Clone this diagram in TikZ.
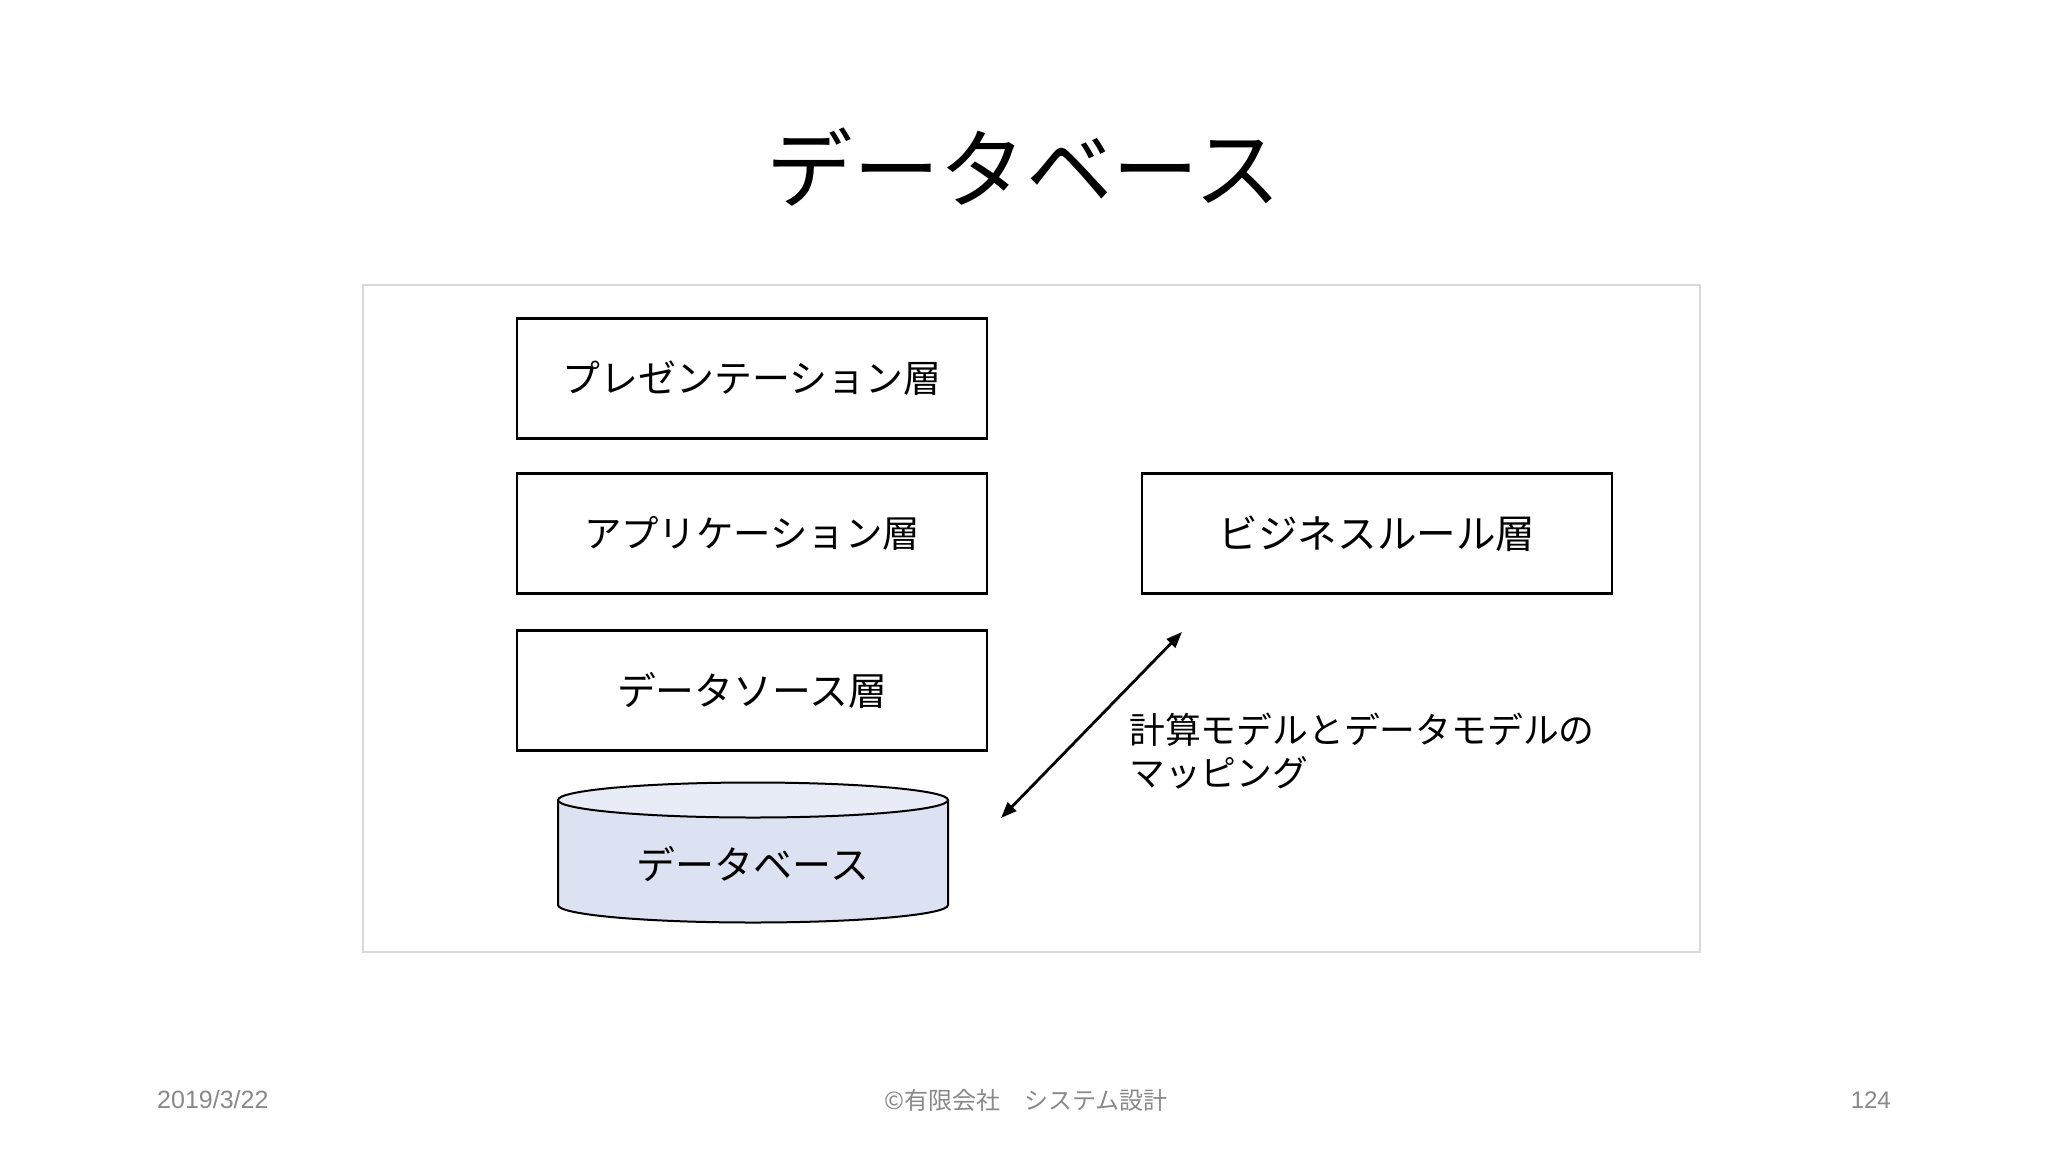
\documentclass[tikz,border=0pt]{standalone}
\usepackage{fontspec}
\setmainfont{Noto Sans CJK JP}
\newfontfamily\latinfont{Liberation Sans}
\usetikzlibrary{arrows.meta}
\definecolor{framegray}{RGB}{217,217,217}
\definecolor{footgray}{RGB}{137,137,137}
\definecolor{dbbody}{RGB}{220,226,242}
\definecolor{dbtop}{RGB}{232,236,247}
\newcommand{\fs}[1]{\fontsize{#1}{#1}\selectfont}
\tikzset{
  layerbox/.style={draw=black, line width=2.2pt, minimum width=470pt, minimum height=120pt, inner sep=0pt},
  foottext/.style={text=footgray, inner sep=0pt, font=\fontsize{24}{28}\selectfont},
  maparrow/.style={line width=2.8pt, {Triangle[length=16pt,width=12pt]}-{Triangle[length=16pt,width=12pt]}},
}
\begin{document}
\begin{tikzpicture}[x=1pt,y=-1pt]
\useasboundingbox (0,0) rectangle (2048,1152);
\fill[white] (0,0) rectangle (2048,1152);
% title
\node[inner sep=0pt, font=\fs{86.5}] (title) at (1024,167) {データベース};
% frame
\draw[framegray, line width=2pt] (363,285) rectangle (1700,952);
% layer boxes
\node[layerbox, font=\fs{37.9}] (pres) at (752,378.5) {プレゼンテーション層};
\node[layerbox, font=\fs{37.4}] (app) at (752,533.5) {アプリケーション層};
\node[layerbox, font=\fs{38.8}] (ds) at (752,690.5) {データソース層};
\node[layerbox, font=\fs{39.6}] (biz) at (1377,533.5) {ビジネスルール層};
% database cylinder
\fill[dbbody] (558,800) -- (558,905) arc[start angle=180, end angle=360, x radius=195, y radius=-17.5] -- (948,800) -- cycle;
\draw[black, line width=2pt] (558,800) -- (558,905) arc[start angle=180, end angle=360, x radius=195, y radius=-17.5] -- (948,800);
\draw[black, line width=2pt, fill=dbtop] (753,800) ellipse[x radius=195, y radius=17.5];
\node[inner sep=0pt, font=\fs{39}] (db) at (753,864) {データベース};
% mapping arrow
\coordinate (mapA) at (1182,632);
\coordinate (mapB) at (1001,818);
\draw[maparrow] (mapB) -- (mapA);
\node[anchor=west, align=left, inner sep=0pt, font=\fontsize{35.8}{43}\selectfont] (maplabel) at (1129,751)
  {計算モデルとデータモデルの\\マッピング};
% footer
\node[foottext, anchor=west, font=\latinfont\fontsize{25}{28}\selectfont] (date) at (157,1100) {2019/3/22};
\node[foottext] (copy) at (1026,1100) {©有限会社　システム設計};
\node[foottext, anchor=east, font=\latinfont\fontsize{24}{28}\selectfont] (page) at (1891,1100) {124};
\end{tikzpicture}
\end{document}
